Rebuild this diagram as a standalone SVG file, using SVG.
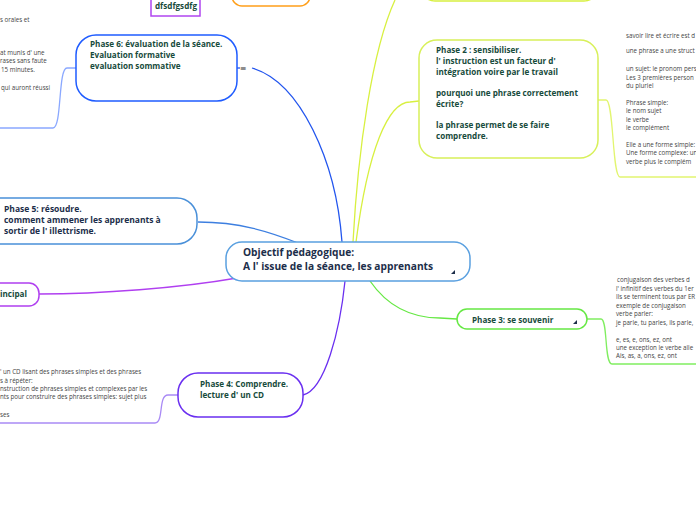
<svg xmlns="http://www.w3.org/2000/svg" width="696" height="520" viewBox="0 0 696 520">
<style>
.b{font-family:"Open Sans","Noto Sans",sans-serif;font-weight:bold;fill:#174b3c;font-size:8.1px}
.nv{fill:#1c2e4a}
.big{font-size:10.2px}
.p5{font-size:8.5px}
.n{font-family:"Open Sans","Noto Sans",sans-serif;fill:#444;font-size:6.2px}
.c{fill:none;stroke-width:1.3}
.box{fill:#fff;stroke-width:1.5}
</style>
<rect width="696" height="520" fill="#fff"/>
<g id="connectors">
<path class="c" stroke="#2255ee" d="M342,242 C336,160 300,82 252,68"/>
<path class="c" stroke="#3d7fe0" d="M298,243 C270,232 240,222 198,222"/>
<path class="c" stroke="#b03ff0" d="M237,278 C180,288 100,294 39,294"/>
<path class="c" stroke="#6a2ff0" d="M345,281 C340,330 325,390 303,395"/>
<path class="c" stroke="#66e844" d="M370,281 C390,310 415,318 440,318 L457,319"/>
<path class="c" stroke="#d8f040" d="M353,242 C358,150 372,50 395,0"/>
<path class="c" stroke="#d8f040" d="M356,242 C368,150 388,102 410,102 L419,101"/>
<path class="c" stroke="#e2f570" d="M598,100 H606 C614,100 612,177 620,177 H696"/>
<path class="c" stroke="#80ee60" d="M587,319 H601 C608,319 604,364 612,364 H696"/>
<path class="c" stroke="#8aa8ff" d="M76,68 H67 C58,68 62,128 53,128 H0"/>
<path class="c" stroke="#a98af5" d="M178,395 H168 C158,395 164,423 155,423 H0"/>
<path class="c" stroke="#2255ee" d="M237,68 H240"/>
</g>
<g id="phase1">
<rect class="box" stroke="#d8f040" x="421" y="-40" width="177" height="41" rx="14"/>
</g>
<g id="orange">
<rect class="box" stroke="#ff9f1a" x="232" y="-30" width="78" height="36" rx="10"/>
</g>
<g id="dfs">
<rect class="box" stroke="#b046f0" stroke-width="2" x="151" y="-10" width="49" height="26"/>
<text class="b" x="155" y="9">dfsdfgsdfg</text>
</g>
<g id="center">
<rect class="box" stroke="#5aa0e0" x="226" y="242" width="244" height="39" rx="16"/>
<text class="b nv big" x="243" y="256">Objectif pédagogique:</text>
<text class="b nv big" x="243" y="270">A l' issue de la séance, les apprenants</text>
<path d="M455,270 L455,274 L451,274 Z" fill="#1c2e4a"/>
</g>
<g id="phase6">
<rect class="box" stroke="#1f5cff" x="76" y="35" width="161" height="66" rx="20"/>
<text class="b" x="90" y="47">Phase 6: évaluation de la séance.</text>
<text class="b" x="90" y="58">Evaluation formative</text>
<text class="b" x="90" y="69">evaluation sommative</text>
<text x="243" y="71" font-family="DejaVu Sans,sans-serif" font-size="8" fill="#333" text-anchor="middle">≡</text>
<text class="n" x="0" y="22">s orales et</text>
<text class="n" x="0" y="55">at munis d' une</text>
<text class="n" x="0" y="63">rases sans faute</text>
<text class="n" x="1" y="72">15 minutes.</text>
<text class="n" x="1" y="90">qui auront réussi</text>
</g>
<g id="phase5">
<rect class="box" stroke="#4a90d9" x="-20" y="198" width="217" height="46" rx="20"/>
<text class="b nv p5" x="4" y="212">Phase 5: résoudre.</text>
<text class="b nv p5" x="4" y="223">comment ammener les apprenants à</text>
<text class="b nv p5" x="4" y="234">sortir de l' illettrisme.</text>
</g>
<g id="principal">
<rect class="box" stroke="#b03ff0" x="-20" y="283" width="59" height="23" rx="10"/>
<text class="b" x="0" y="297">incipal</text>
</g>
<g id="phase2">
<rect class="box" stroke="#d8f05a" x="419" y="40" width="179" height="118" rx="18"/>
<text class="b" x="436" y="53">Phase 2 : sensibiliser.</text>
<text class="b" x="436" y="64">l' instruction est un facteur d'</text>
<text class="b" x="436" y="75">intégration voire par le travail</text>
<text class="b" x="436" y="96">pourquoi une phrase correctement</text>
<text class="b" x="436" y="107">écrite?</text>
<text class="b" x="436" y="128">la phrase permet de se faire</text>
<text class="b" x="436" y="139">comprendre.</text>
<text class="n" x="626" y="38">savoir lire et écrire est d</text>
<text class="n" x="626" y="53">une phrase a une struct</text>
<text class="n" x="626" y="71">un sujet: le pronom pers</text>
<text class="n" x="626" y="80">Les 3 premières person</text>
<text class="n" x="626" y="88">du pluriel</text>
<text class="n" x="626" y="105">Phrase simple:</text>
<text class="n" x="626" y="113">le nom sujet</text>
<text class="n" x="626" y="122">le verbe</text>
<text class="n" x="626" y="130">le complément</text>
<text class="n" x="626" y="147">Elle a une forme simple:</text>
<text class="n" x="626" y="155">Une forme complexe: un</text>
<text class="n" x="626" y="164">verbe plus le complém</text>
</g>
<g id="phase3">
<rect class="box" stroke="#66e844" x="457" y="309" width="130" height="20" rx="10"/>
<text class="b" x="472" y="323">Phase 3: se souvenir</text>
<path d="M577,320 L577,324 L573,324 Z" fill="#1c2e4a"/>
<text class="n" x="617" y="282"> conjugaison des verbes d</text>
<text class="n" x="616" y="291">l' infinitif des verbes du 1er</text>
<text class="n" x="616" y="299">Ils se terminent tous par ER</text>
<text class="n" x="616" y="308">exemple de conjugaison</text>
<text class="n" x="616" y="316">verbe parler:</text>
<text class="n" x="616" y="325">je parle, tu parles, ils parle,</text>
<text class="n" x="616" y="342">e, es, e, ons, ez, ont</text>
<text class="n" x="616" y="350">une exception le verbe alle</text>
<text class="n" x="616" y="358">Ais, as, a, ons, ez, ont</text>
</g>
<g id="phase4">
<rect class="box" stroke="#6a2ff0" x="178" y="373" width="125" height="44" rx="20"/>
<text class="b" x="200" y="387">Phase 4: Comprendre.</text>
<text class="b" x="200" y="398">lecture d' un CD</text>
<text class="n" x="0" y="374">' un CD lisant des phrases simples et  des phrases</text>
<text class="n" x="0" y="383">s à répéter:</text>
<text class="n" x="0" y="391">nstruction de phrases simples et complexes par les</text>
<text class="n" x="0" y="399">nts pour construire des phrases simples: sujet plus</text>
<text class="n" x="0" y="417">ses</text>
</g>
</svg>
